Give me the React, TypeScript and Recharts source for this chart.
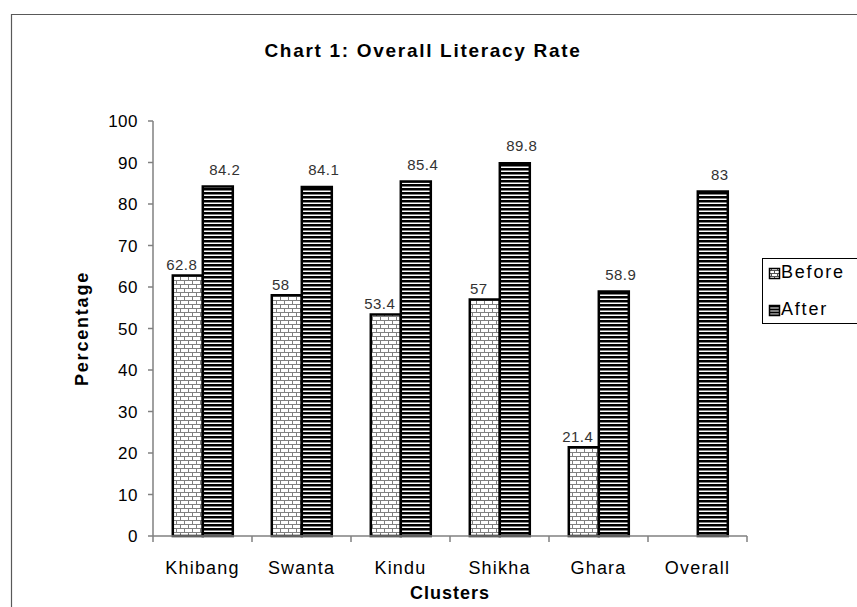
import React from 'react';
import { BarChart, Bar, XAxis, YAxis, LabelList } from 'recharts';

const categories = ['Khibang', 'Swanta', 'Kindu', 'Shikha', 'Ghara', 'Overall'];
const beforeValues: (number | null)[] = [62.8, 58, 53.4, 57, 21.4, null];
const afterValues: number[] = [84.2, 84.1, 85.4, 89.8, 58.9, 83];
const yTicks = [0, 10, 20, 30, 40, 50, 60, 70, 80, 90, 100];
const seriesNames = ['Before', 'After'];
const chartTitle = 'Chart 1: Overall Literacy Rate';
const xTitle = 'Clusters';
const yTitle = 'Percentage';

const data = categories.map((c, i) => ({
  cluster: c,
  before: beforeValues[i],
  after: afterValues[i],
}));

const W = 857;
const H = 607;
const M = { top: 121, right: 110, bottom: 26, left: 93 };
const Y_AXIS_W = 60;
const X_AXIS_H = 45;
const PLOT_W = W - M.left - Y_AXIS_W - M.right;
const BAND = PLOT_W / categories.length;
const FONT = '"Liberation Sans", Arial, Helvetica, sans-serif';
const AXIS = '#808080';

const CategoryTick = (props: any) => {
  const { x, y, payload, index } = props;
  return (
    <g>
      <line x1={x - BAND / 2} x2={x - BAND / 2} y1={y} y2={y + 6} stroke={AXIS} strokeWidth={1.5} />
      {index === categories.length - 1 && (
        <line x1={x + BAND / 2} x2={x + BAND / 2} y1={y} y2={y + 6} stroke={AXIS} strokeWidth={1.5} />
      )}
      <text
        x={x}
        y={y + 38}
        textAnchor="middle"
        fontSize={18}
        letterSpacing={1.2}
        fontFamily={FONT}
        fill="#000"
      >
        {payload.value}
      </text>
    </g>
  );
};

const YTitle = (props: any) => {
  const vb = props.viewBox || { x: M.left, y: M.top, height: 415 };
  const cx = vb.x - 5;
  const cy = vb.y + vb.height / 2;
  return (
    <text
      x={cx}
      y={cy}
      transform={`rotate(-90 ${cx} ${cy})`}
      textAnchor="middle"
      fontSize={18}
      letterSpacing={1.8}
      fontWeight="bold"
      fontFamily={FONT}
      fill="#000"
    >
      {yTitle}
    </text>
  );
};

const XTitle = (props: any) => {
  const vb = props.viewBox || { x: M.left + Y_AXIS_W, y: 536, width: PLOT_W };
  return (
    <text
      x={vb.x + vb.width / 2}
      y={vb.y + 63}
      textAnchor="middle"
      fontSize={18}
      letterSpacing={1}
      fontWeight="bold"
      fontFamily={FONT}
      fill="#000"
    >
      {xTitle}
    </text>
  );
};

const makeLabel = (dx: number, dy: number) => (props: any) => {
  const { x, y, width, value } = props;
  if (value === null || value === undefined) return null;
  return (
    <text
      x={x + width / 2 + dx}
      y={y + dy}
      textAnchor="middle"
      fontSize={15}
      letterSpacing={0.5}
      fontFamily={FONT}
      fill="#333"
    >
      {value}
    </text>
  );
};

const LegendBox = () => (
  <svg width={110} height={66} style={{ display: 'block' }}>
    <rect x={0.5} y={0.5} width={120} height={65} fill="#fff" stroke="#000" strokeWidth={1} />
    <rect x={7.5} y={10.5} width={10} height={10} fill="url(#bricksLegend)" stroke="#000" strokeWidth={1.5} />
    <text x={19} y={20} fontSize={18} letterSpacing={1.8} fontFamily={FONT} fill="#000">
      {seriesNames[0]}
    </text>
    <rect x={7.5} y={47.5} width={10} height={10} fill="url(#stripesLegend)" stroke="#000" strokeWidth={1.5} />
    <text x={19} y={57} fontSize={18} letterSpacing={1.8} fontFamily={FONT} fill="#000">
      {seriesNames[1]}
    </text>
  </svg>
);

export default function App() {
  return (
    <div style={{ position: 'absolute', left: 0, top: 0, width: W, height: H, overflow: 'hidden', background: '#fff' }}>
      <svg width={0} height={0} style={{ position: 'absolute' }}>
        <defs>
          <pattern id="stripes" width="8" height="4" patternUnits="userSpaceOnUse">
            <rect width="8" height="4" fill="#fff" />
            <rect y="0" width="8" height="2.5" fill="#000" />
          </pattern>
          <pattern id="bricks" width="8" height="8" patternUnits="userSpaceOnUse">
            <rect width="8" height="8" fill="#fff" />
            <path d="M0 0.5H8 M0 4.5H8 M0.5 0V4.5 M4.5 4.5V8" stroke="#808080" strokeWidth="1" fill="none" />
          </pattern>
          <pattern id="stripesLegend" width="4" height="3" patternUnits="userSpaceOnUse">
            <rect width="4" height="3" fill="#000" />
            <rect y="1.5" width="4" height="1" fill="#fff" />
          </pattern>
          <pattern id="bricksLegend" width="6" height="6" patternUnits="userSpaceOnUse">
            <rect width="6" height="6" fill="#fff" />
            <path d="M0 0.5H6 M0 3.5H6 M0.5 0V3.5 M3.5 3.5V6" stroke="#555" strokeWidth="1" fill="none" />
          </pattern>
        </defs>
      </svg>
      <svg width={W} height={H} style={{ position: 'absolute', left: 0, top: 0 }}>
        <path d="M11.5 607 V14.5 H857" stroke="#595959" strokeWidth={1.2} fill="none" />
        <text
          x={423}
          y={57}
          textAnchor="middle"
          fontSize={19}
          letterSpacing={1.7}
          fontWeight="bold"
          fontFamily={FONT}
          fill="#000"
        >
          {chartTitle}
        </text>
      </svg>
      <div style={{ position: 'absolute', left: 0, top: 0 }}>
        <BarChart width={W} height={H} data={data} margin={M} barCategoryGap="20%" barGap={0}>
          <XAxis
            dataKey="cluster"
            height={X_AXIS_H}
            interval={0}
            tickSize={0}
            tickMargin={0}
            tickLine={false}
            tick={<CategoryTick />}
            axisLine={{ stroke: AXIS, strokeWidth: 1.5 }}
            label={{ content: <XTitle /> }}
          />
          <YAxis
            width={Y_AXIS_W}
            domain={[0, 100]}
            ticks={yTicks}
            interval={0}
            tickSize={5}
            tickMargin={10}
            axisLine={{ stroke: AXIS, strokeWidth: 1.5 }}
            tickLine={{ stroke: AXIS, strokeWidth: 1.5 }}
            tick={{ fill: '#000', fontSize: 17, fontFamily: FONT, letterSpacing: 0.5 }}
            label={{ content: <YTitle /> }}
          />
          <Bar
            dataKey="before"
            name={seriesNames[0]}
            fill="url(#bricks)"
            stroke="#000"
            strokeWidth={2.5}
            isAnimationActive={false}
          >
            <LabelList dataKey="before" content={makeLabel(-6, -5)} />
          </Bar>
          <Bar
            dataKey="after"
            name={seriesNames[1]}
            fill="url(#stripes)"
            stroke="#000"
            strokeWidth={2.5}
            isAnimationActive={false}
          >
            <LabelList dataKey="after" content={makeLabel(7, -12)} />
          </Bar>
        </BarChart>
      </div>
      <div style={{ position: 'absolute', left: 762, top: 258 }}>
        <LegendBox />
      </div>
    </div>
  );
}
